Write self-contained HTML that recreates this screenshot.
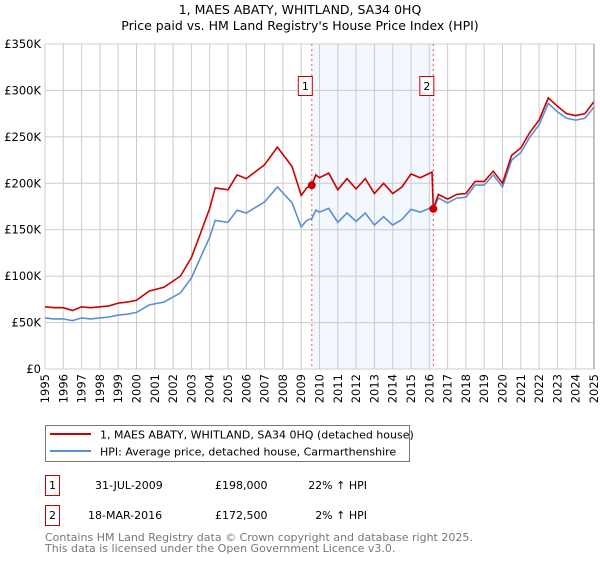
<!DOCTYPE html>
<html><head><meta charset="utf-8"><style>
body{margin:0;background:#fff;font-family:"DejaVu Sans","Liberation Sans",sans-serif;}
svg text{font-family:"DejaVu Sans","Liberation Sans",sans-serif;}
</style></head><body>
<svg id="c" width="600" height="560" xmlns="http://www.w3.org/2000/svg">
<text x="300" y="14" text-anchor="middle" font-size="12.5" fill="#000">1, MAES ABATY, WHITLAND, SA34 0HQ</text>
<text x="300" y="30" text-anchor="middle" font-size="12.5" fill="#000">Price paid vs. HM Land Registry's House Price Index (HPI)</text>
<g id="grid"></g>
<g id="marks"></g>
<g id="axes"></g>
<g>
<rect x="45.5" y="425.5" width="364" height="36" fill="#fff" stroke="#777"/>
<line x1="50" y1="434" x2="91" y2="434" stroke="#cc0000" stroke-width="2"/>
<text x="100" y="438.5" font-size="11">1, MAES ABATY, WHITLAND, SA34 0HQ (detached house)</text>
<line x1="50" y1="451" x2="91" y2="451" stroke="#5b8fd4" stroke-width="2"/>
<text x="100" y="455.5" font-size="11">HPI: Average price, detached house, Carmarthenshire</text>
</g>
<g>
<rect x="45.5" y="475.5" width="14" height="20" fill="#fff" stroke="#cc0000"/>
<text x="52.5" y="489" font-size="11" text-anchor="middle">1</text>
<text x="95" y="489" font-size="11">31-JUL-2009</text>
<text x="215" y="489" font-size="11">£198,000</text>
<text x="367" y="489" font-size="11" text-anchor="end">22% ↑ HPI</text>
<rect x="45.5" y="505.5" width="14" height="20" fill="#fff" stroke="#cc0000"/>
<text x="52.5" y="519" font-size="11" text-anchor="middle">2</text>
<text x="88" y="519" font-size="11">18-MAR-2016</text>
<text x="215" y="519" font-size="11">£172,500</text>
<text x="367" y="519" font-size="11" text-anchor="end">2% ↑ HPI</text>
</g>
<text x="45" y="541" font-size="11" fill="#777">Contains HM Land Registry data © Crown copyright and database right 2025.</text>
<text x="45" y="552" font-size="11" fill="#777">This data is licensed under the Open Government Licence v3.0.</text>
</svg>
<script>
const years=[1995.0,1995.5,1996.0,1996.5,1997.0,1997.5,1998.0,1998.5,1999.0,1999.5,2000.0,2000.7,2001.5,2002.4,2003.0,2003.5,2004.0,2004.3,2005.0,2005.5,2006.0,2007.0,2007.7,2008.5,2009.0,2009.3,2009.58,2009.8,2010.0,2010.5,2011.0,2011.5,2012.0,2012.5,2013.0,2013.5,2014.0,2014.5,2015.0,2015.5,2016.15,2016.22,2016.5,2017.0,2017.5,2018.0,2018.5,2019.0,2019.5,2020.0,2020.5,2021.0,2021.5,2022.0,2022.5,2023.0,2023.5,2024.0,2024.5,2025.0];
const hpiValues=[55,54,54,52,55,54,55,56,58,59,61,69,72,82,98,120,142,160,158,171,168,180,196,179,153,160,162,171,169,173,158,168,159,168,155,164,155,161,172,169,174,172,184,179,184,185,198,198,209,196,225,233,250,263,286,277,270,268,270,282];
const priceValues=[67,66,66,63,67,66,67,68,71,72,74,84,88,100,120,146,173,195,193,209,205,220,239,218,187,195,198,209,206,211,193,205,194,205,189,200,189,196,210,206,212,172.5,188,183,188,189,202,202,213,200,230,238,255,268,292,283,275,273,275,288];
const yTicks=[0,50,100,150,200,250,300,350];
const yTickLabels=["£0","£50K","£100K","£150K","£200K","£250K","£300K","£350K"];
const xTicks=[1995,1996,1997,1998,1999,2000,2001,2002,2003,2004,2005,2006,2007,2008,2009,2010,2011,2012,2013,2014,2015,2016,2017,2018,2019,2020,2021,2022,2023,2024,2025];
const saleYears=[2009.58,2016.22];
const saleValues=[198,172.5];
const saleLabels=["1","2"];

const L=45,R=594,T=44,B=369;
const xs=y=>L+(y-1995)/30*(R-L);
const ys=v=>B-v/350*(B-T);
const NS="http://www.w3.org/2000/svg";
function mk(tag,attrs,parent){const e=document.createElementNS(NS,tag);for(const k in attrs)e.setAttribute(k,attrs[k]);parent.appendChild(e);return e;}
const grid=document.getElementById('grid'),marks=document.getElementById('marks'),axes=document.getElementById('axes');
// shaded region between sales
let sh=mk('rect',{x:xs(saleYears[0]),y:T,width:xs(saleYears[1])-xs(saleYears[0]),height:B-T,fill:'#eef3fd',opacity:0.7},grid);


yTicks.forEach((t,i)=>{
 let g=mk('line',{x1:L,x2:R,y1:ys(t),y2:ys(t),stroke:'#cccccc','stroke-width':1},grid);
 
 
 let tx=mk('text',{x:L-4,y:ys(t)+4,'text-anchor':'end','font-size':11.5},axes);
 tx.textContent=yTickLabels[i];
 
 
});
xTicks.forEach(t=>{
 let g=mk('line',{x1:xs(t),x2:xs(t),y1:T,y2:B,stroke:'#cccccc','stroke-width':1},grid);
 
 
 let tx=mk('text',{x:0,y:0,'text-anchor':'end','font-size':11.5,transform:`translate(${xs(t)+4},${B+5}) rotate(-90)`},axes);
 tx.textContent=t;
 
 
});
let ax=mk('line',{x1:R,x2:R,y1:T,y2:B,stroke:'#888','stroke-width':1},axes);


saleYears.forEach((s,i)=>{
 let v=mk('line',{x1:xs(s),x2:xs(s),y1:T,y2:B,stroke:'#ee5555','stroke-width':1,'stroke-dasharray':'2,3'},marks);
 
 
 let b=mk('rect',{x:xs(s)-13.5,y:76.5,width:14,height:19,fill:'#fff',stroke:'#cc0000'},marks);
 
 
 let t=mk('text',{x:xs(s)-6.5,y:90,'text-anchor':'middle','font-size':11},marks);
 t.textContent=saleLabels[i];
 
 
});
function path(vals){return years.map((y,i)=>(i?'L':'M')+xs(y).toFixed(1)+','+ys(vals[i]).toFixed(1)).join('');}
let hp=mk('path',{d:path(hpiValues),fill:'none',stroke:'#5b8fd4','stroke-width':1.6},marks);


let pp=mk('path',{d:path(priceValues),fill:'none',stroke:'#cc0000','stroke-width':1.6},marks);


saleYears.forEach((s,i)=>{
 let c=mk('circle',{cx:xs(s),cy:ys(saleValues[i]),r:4,fill:'#cc0000'},marks);
 
 
});
</script>
</body></html>
